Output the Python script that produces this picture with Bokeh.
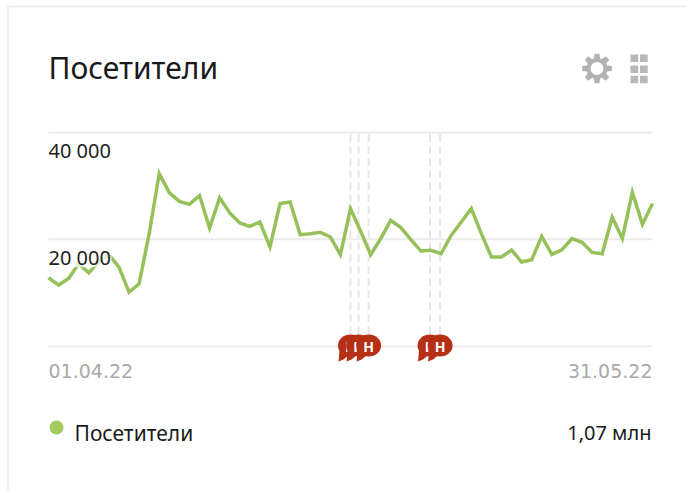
import math
from bokeh.embed import file_html
from bokeh.resources import INLINE
from bokeh.models import Range1d
from bokeh.plotting import figure
from bokeh.core.properties import value

TITLE = "Посетители"
LEGEND = "Посетители"
TOTAL = "1,07 млн"
DATE_LABELS = ["01.04.22", "31.05.22"]
DATE_POS = [0, 60]
Y_TICKS = [0, 20000, 40000]
Y_LABELED = [40000, 20000]
Y_LABELS = ["40 000", "20 000"]
VISITORS = [12810, 11440, 12690, 15440, 13750, 15750, 17130, 14810, 10130, 11690,
            21060, 32310, 28750, 27120, 26560, 28190, 22120, 27810, 24940, 23060,
            22440, 23250, 18560, 26690, 27000, 20880, 21060, 21310, 20440, 17130,
            25750, 21560, 17130, 20130, 23560, 22190, 19940, 17810, 17940, 17310,
            20750, 23250, 25750, 21060, 16690, 16690, 18000, 15750, 16190, 20560,
            17190, 18060, 20130, 19440, 17560, 17310, 24190, 20130, 28810, 22810,
            26690]
EVENTS = [30.0, 30.8, 31.8, 37.9, 38.9]

GREEN = "#96c15a"
RED = "#b53015"
GRID = "#ebebeb"
W, H = 686, 492
FONT = value("Noto Sans")
DATE_FONT = value("DejaVu Sans")

# page pixels <-> data units for the frame, which fills the canvas
X0, XSTEP = 48.0, 604 / 60
Y0, YK = 345.7, 106.85 / 20000
def fx(px): return (px - X0) / XSTEP
def fy(py): return (Y0 - py) / YK

p = figure(width=W, height=H, output_backend="svg", toolbar_location=None,
           x_range=Range1d(fx(0), fx(W)), y_range=Range1d(fy(H), fy(0)),
           x_axis_location=None, y_axis_location=None,
           min_border=0, outline_line_color=None, margin=0)
p.grid.visible = False

# card border
p.segment([fx(7.5)], [fy(6)], [fx(7.5)], [fy(H)], line_color="#eeeeee", line_width=2)
p.segment([fx(7)], [fy(6)], [fx(W)], [fy(6)], line_color="#eeeeee", line_width=2)

# grid
p.segment([fx(48)] * 3, Y_TICKS, [fx(652)] * 3, Y_TICKS, line_color=GRID, line_width=2)

# event lines
p.segment(EVENTS, [Y_TICKS[0]] * 5, EVENTS, [Y_TICKS[2]] * 5, line_color="#e6e6e6",
          line_width=2, line_dash="8 4")

# series
p.line(list(range(len(VISITORS))), VISITORS, line_color=GREEN, line_width=3.5, line_join="miter")

# y labels with translucent backing
for v, s in zip(Y_LABELED, Y_LABELS):
    p.quad(left=[fx(48)], right=[fx(111)], top=[v - 11 / YK], bottom=[v - 28 / YK],
           fill_color="white", fill_alpha=0.7, line_color=None)
    p.text([fx(48)], [v], text=[s], text_font=FONT, text_font_size="20px", text_color="#222222",
           text_align="left", text_baseline="middle", y_offset=18)

# x labels
p.text([DATE_POS[0]], [fy(370)], text=[DATE_LABELS[0]], text_font=DATE_FONT, text_font_size="19px",
       text_color="#a9a9a9", text_align="left", text_baseline="middle")
p.text([DATE_POS[1]], [fy(370)], text=[DATE_LABELS[1]], text_font=DATE_FONT, text_font_size="19px",
       text_color="#a9a9a9", text_align="right", text_baseline="middle")

# event bubbles
for e in EVENTS:
    p.ellipse([e], [fy(345)], width=25, height=22, width_units="screen", height_units="screen",
              fill_color=RED, line_color=None)
    p.patch([e - 11 / XSTEP, e - 1 / XSTEP, e - 7 / XSTEP, e - 12 / XSTEP],
            [fy(350), fy(354), fy(359), fy(361)], fill_color=RED, line_color=None)
    p.text([e], [fy(346)], text=["Н"], text_font=FONT, text_font_style="bold", text_font_size="14px",
           text_color="white", text_align="center", text_baseline="middle")

# title
p.text([fx(48)], [fy(67)], text=[TITLE], text_font=FONT, text_font_size="30px", text_color="#1a1a1a",
       text_align="left", text_baseline="middle")

# gear icon
cx, cy = 596.5, 68
ICON = "#b2b2b2"
xs, ys = [], []
for k in range(8):
    a0 = k * math.pi / 4
    for da, r in [(-0.30, 10.5), (-0.16, 15), (0.16, 15), (0.30, 10.5)]:
        xs.append(fx(cx + r * math.cos(a0 + da)))
        ys.append(fy(cy + r * math.sin(a0 + da)))
p.patch(xs, ys, fill_color=ICON, line_color=None)
p.ellipse([fx(cx)], [fy(cy)], width=13, height=13, width_units="screen", height_units="screen",
          fill_color="white", line_color=None)

# grid-menu icon
lefts = [630, 639.5]
tops = [54, 65, 75.3]
p.quad(left=[fx(a) for a in lefts for b in tops], right=[fx(a + 7.7) for a in lefts for b in tops],
       top=[fy(b) for a in lefts for b in tops], bottom=[fy(b + 7.5) for a in lefts for b in tops],
       fill_color="#b8b8b8", line_color=None)

# legend
p.ellipse([fx(56)], [fy(427)], width=14, height=14, width_units="screen", height_units="screen",
          fill_color="#a4c95f", line_color=None)
p.text([fx(74)], [fy(432)], text=[LEGEND], text_font=FONT, text_font_size="21px", text_color="#1a1a1a",
       text_align="left", text_baseline="middle")
p.text([fx(651)], [fy(432)], text=[TOTAL], text_font=FONT, text_font_size="20px", text_color="#1a1a1a",
       text_align="right", text_baseline="middle")

open("out.html", "w").write(file_html(p, INLINE))
